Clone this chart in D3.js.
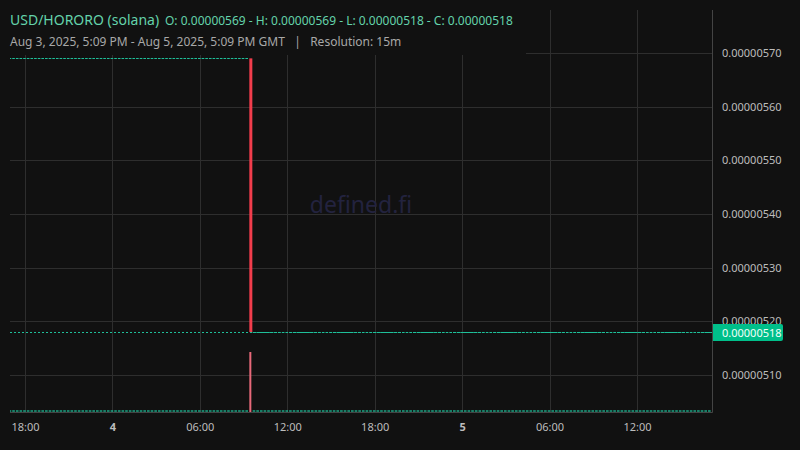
<!DOCTYPE html>
<html>
<head>
<meta charset="utf-8">
<script src="https://cdn.jsdelivr.net/npm/d3@7"></script>
<style>
  html, body { margin: 0; padding: 0; background: #111111; }
  svg { display: block; font-family: "Noto Sans", "Open Sans", sans-serif; }
</style>
</head>
<body>
<svg id="chart" width="800" height="450"></svg>
<script>
// ---- data ----
const symbolTitle = "USD/HORORO (solana)";
const ohlcText = "O: 0.00000569 - H: 0.00000569 - L: 0.00000518 - C: 0.00000518";
const rangeText = "Aug 3, 2025, 5:09 PM - Aug 5, 2025, 5:09 PM GMT   |   Resolution: 15m";
const windowStart = "2025-08-03T17:09:00Z";
const windowEnd = "2025-08-05T17:09:00Z";

// the one moving 15m candle
const candleTimes = ["2025-08-04T09:30:00Z"];
const candleOpen = [0.00000569];
const candleHigh = [0.00000569];
const candleLow = [0.00000518];
const candleClose = [0.00000518];
const candleVolume = [100];

// stretches of flat 15m candles (O=H=L=C), no real volume
const flatStart = ["2025-08-03T17:00:00Z", "2025-08-04T09:45:00Z"];
const flatEnd = ["2025-08-04T09:15:00Z", "2025-08-05T17:00:00Z"];
const flatPrice = [0.00000569, 0.00000518];

const lastPrice = 0.00000518;
const yTicks = [0.00000510, 0.00000520, 0.00000530, 0.00000540, 0.00000550, 0.00000560, 0.00000570];
const xTickTimes = ["2025-08-03T18:00:00Z", "2025-08-04T00:00:00Z", "2025-08-04T06:00:00Z", "2025-08-04T12:00:00Z",
                    "2025-08-04T18:00:00Z", "2025-08-05T00:00:00Z", "2025-08-05T06:00:00Z", "2025-08-05T12:00:00Z"];
const xTickLabels = ["18:00", "4", "06:00", "12:00", "18:00", "5", "06:00", "12:00"];

// ---- layout ----
const plot = { left: 10, right: 712, top: 10, bottom: 412 };
const up = "#1fbf99", down = "#f23d4c", downVol = "#e8697a";

const svg = d3.select("#chart");
svg.append("rect").attr("width", 800).attr("height", 450).attr("fill", "#111111");

const x = d3.scaleUtc()
    .domain([new Date(windowStart), new Date(windowEnd)])
    .range([12.6, plot.right]);
const y = d3.scaleLinear()
    .domain([0.0000050311, 0.0000057801])
    .range([plot.bottom, plot.top]);
const yVol = d3.scaleLinear().domain([0, 100]).range([plot.bottom, plot.bottom - 60]);

svg.append("clipPath").attr("id", "clip")
  .append("rect")
    .attr("x", plot.left).attr("y", plot.top)
    .attr("width", plot.right - plot.left).attr("height", plot.bottom - plot.top);

// grid
const grid = svg.append("g").attr("stroke", "#2e2e2e").attr("stroke-width", 1);
grid.selectAll("line.v").data(xTickTimes).enter().append("line")
    .attr("x1", d => Math.round(x(new Date(d))) + 0.5).attr("x2", d => Math.round(x(new Date(d))) + 0.5)
    .attr("y1", plot.top).attr("y2", plot.bottom);
grid.selectAll("line.h").data(yTicks).enter().append("line")
    .attr("x1", plot.left).attr("x2", plot.right)
    .attr("y1", d => Math.round(y(d)) + 0.5).attr("y2", d => Math.round(y(d)) + 0.5);

// watermark
svg.append("text")
    .text("defined.fi")
    .attr("x", 361).attr("y", 213)
    .attr("text-anchor", "middle")
    .attr("font-size", 23)
    .attr("fill", "#23233f");

const marks = svg.append("g").attr("clip-path", "url(#clip)");
const barW = x(new Date("2025-08-04T00:15:00Z")) - x(new Date("2025-08-04T00:00:00Z"));

// volume: flat stretches have hairline bars, the drop candle has a real one
const flats = flatStart.map((s, i) => ({ s: new Date(s), e: new Date(flatEnd[i]), p: flatPrice[i] }));
marks.selectAll("line.vol").data(flats).enter().append("line")
    .attr("x1", d => x(d.s) - barW / 2).attr("x2", d => x(d.e) + barW / 2)
    .attr("y1", yVol(0) - 1).attr("y2", yVol(0) - 1)
    .attr("stroke", up).attr("stroke-width", 1.5)
    .attr("stroke-dasharray", `${barW - 1},1`)
    .attr("opacity", 0.85);

const candles = candleTimes.map((t, i) => ({
  t: new Date(t), o: candleOpen[i], h: candleHigh[i], l: candleLow[i], c: candleClose[i], v: candleVolume[i]
}));
marks.selectAll("rect.vol").data(candles).enter().append("rect")
    .attr("x", d => x(d.t) - 1.5).attr("width", 2)
    .attr("y", d => yVol(d.v)).attr("height", d => yVol(0) - yVol(d.v))
    .attr("fill", d => d.c >= d.o ? up : downVol);

// last price line
marks.append("line")
    .attr("x1", plot.left).attr("x2", plot.right)
    .attr("y1", Math.round(y(lastPrice)) + 0.5).attr("y2", Math.round(y(lastPrice)) + 0.5)
    .attr("stroke", up).attr("stroke-width", 1)
    .attr("stroke-dasharray", "2,2");

// flat candles, one dash per 15m bar
marks.selectAll("line.flat").data(flats).enter().append("line")
    .attr("x1", d => x(d.s) - barW / 2).attr("x2", d => x(d.e) + barW / 2)
    .attr("y1", d => Math.round(y(d.p)) + 0.5).attr("y2", d => Math.round(y(d.p)) + 0.5)
    .attr("stroke", up).attr("stroke-width", 1)
    .attr("stroke-dasharray", `${barW - 1},1`);

// moving candle
marks.selectAll("rect.candle").data(candles).enter().append("rect")
    .attr("x", d => x(d.t) - 1.5).attr("width", 3)
    .attr("y", d => y(Math.max(d.o, d.c))).attr("height", d => Math.abs(y(d.o) - y(d.c)))
    .attr("fill", d => d.c >= d.o ? up : down);

// header box hides grid behind the legend
svg.append("rect").attr("x", 0).attr("y", 0).attr("width", 526).attr("height", 55).attr("fill", "#111111");
// redraw flat line part that sits inside the header band edge
svg.append("text").text(symbolTitle)
    .attr("x", 10).attr("y", 25).attr("font-size", 14).attr("fill", "#64d3ab");
svg.append("text").text(ohlcText)
    .attr("x", 165).attr("y", 25).attr("font-size", 12).attr("fill", "#64d3ab");
svg.append("text").text(rangeText)
    .attr("x", 10).attr("y", 46).attr("font-size", 12).attr("fill", "#a8a8a8")
    .attr("xml:space", "preserve").style("white-space", "pre");

// axes borders
svg.append("line").attr("x1", plot.right + 0.5).attr("x2", plot.right + 0.5)
    .attr("y1", plot.top).attr("y2", plot.bottom + 0.5).attr("stroke", "#444");
svg.append("line").attr("x1", plot.left).attr("x2", plot.right + 0.5)
    .attr("y1", plot.bottom + 0.5).attr("y2", plot.bottom + 0.5).attr("stroke", "#444");

// y axis
const fmt = d3.format(".8f");
const yAxis = svg.append("g")
    .attr("transform", `translate(${plot.right},0)`)
    .call(d3.axisRight(y).tickValues(yTicks).tickFormat(fmt).tickSize(0).tickPadding(10));
yAxis.select(".domain").remove();
yAxis.selectAll("text").attr("fill", "#bdbdbd").attr("font-size", 11).attr("font-family", "Noto Sans");

// x axis
const tickMap = new Map(xTickTimes.map((t, i) => [+new Date(t), xTickLabels[i]]));
const xAxis = svg.append("g")
    .attr("transform", `translate(0,${plot.bottom})`)
    .call(d3.axisBottom(x).tickValues(xTickTimes.map(t => new Date(t)))
      .tickFormat(d => tickMap.get(+d)).tickSize(0).tickPadding(11));
xAxis.select(".domain").remove();
xAxis.selectAll("text")
    .attr("fill", "#bdbdbd").attr("font-size", 11).attr("font-family", "Noto Sans")
    .attr("font-weight", (d) => /:/.test(tickMap.get(+d)) ? 400 : 700);

// last price badge
const badgeY = Math.round(y(lastPrice));
svg.append("path")
    .attr("d", `M${plot.right + 1},${badgeY - 8} h68 a2,2 0 0 1 2,2 v13 a2,2 0 0 1 -2,2 h-68 z`)
    .attr("fill", "#00bf8a");
svg.append("text").text(fmt(lastPrice))
    .attr("x", 722).attr("y", badgeY + 4.5)
    .attr("font-size", 11).attr("fill", "#f2fff9");
</script>
</body>
</html>
